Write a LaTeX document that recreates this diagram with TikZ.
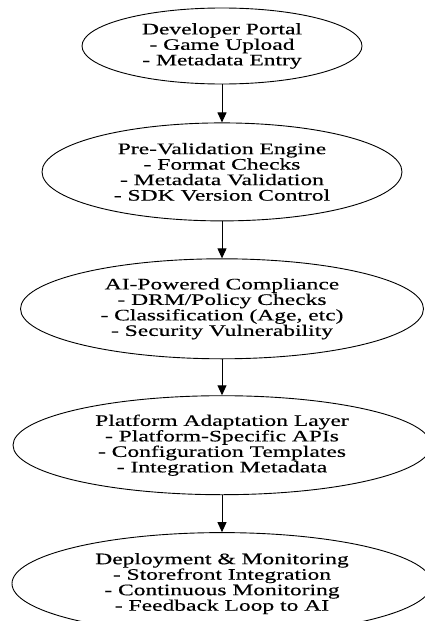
\documentclass[tikz,border=0pt]{standalone}
\usepackage{fontspec}
\setmainfont[FakeStretch=1.47, FakeBold=0.4]{Liberation Serif}
\usetikzlibrary{positioning}
\usetikzlibrary{shapes.geometric}
\usetikzlibrary{arrows.meta}

\begin{document}
\begin{tikzpicture}[x=1pt, y=1pt, Stage/.style={ellipse, draw=black, line width=0.9pt, fill=white, inner sep=0pt, align=center, font=\fontsize{16}{15.5}\selectfont}]
    \useasboundingbox (0,0) rectangle (425,-621);

            \node[Stage, minimum width=280pt, minimum height=76pt] at (222,-46) (Portal)
                {Developer Portal\\
                 - Game Upload\\
                 - Metadata Entry};
            \node[Stage, minimum width=360pt, minimum height=98pt, below = 38pt of Portal] (PreVal)
                {Pre-Validation Engine\\
                 - Format Checks\\
                 - Metadata Validation\\
                 - SDK Version Control};
            \node[Stage, minimum width=403pt, minimum height=100pt, below = 37pt of PreVal] (AIComp)
                {AI-Powered Compliance\\
                 - DRM/Policy Checks\\
                 - Classification (Age, etc)\\
                 - Security Vulnerability};
            \node[Stage, minimum width=418pt, minimum height=99pt, below = 36pt of AIComp] (Adapt)
                {Platform Adaptation Layer\\
                 - Platform-Specific APIs\\
                 - Configuration Templates\\
                 - Integration Metadata};
            \node[Stage, minimum width=420pt, minimum height=102pt, below = 37pt of Adapt] (Deploy)
                {Deployment \& Monitoring\\
                 - Storefront Integration\\
                 - Continuous Monitoring\\
                 - Feedback Loop to AI};

            \draw[-{Triangle[length=10pt, width=9pt]}, black, line width=1pt] (Portal.south) -- (PreVal.north) {};
            \draw[-{Triangle[length=10pt, width=9pt]}, black, line width=1pt] (PreVal.south) -- (AIComp.north) {};
            \draw[-{Triangle[length=10pt, width=9pt]}, black, line width=1pt] (AIComp.south) -- (Adapt.north) {};
            \draw[-{Triangle[length=10pt, width=9pt]}, black, line width=1pt] (Adapt.south) -- (Deploy.north) {};
\end{tikzpicture}
\end{document}
